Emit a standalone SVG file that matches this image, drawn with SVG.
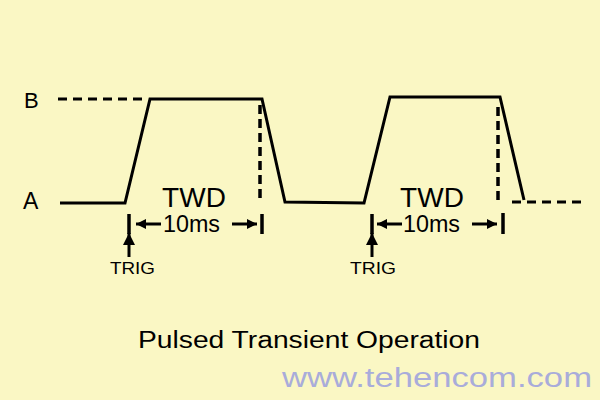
<svg xmlns="http://www.w3.org/2000/svg" width="600" height="400" viewBox="0 0 600 400">
<defs>
<style>
.bg{fill:#FAF7C4}
.w{fill:none;stroke:#000;stroke-width:3;stroke-linejoin:miter;stroke-linecap:butt}
.d{fill:none;stroke:#000;stroke-width:3;stroke-dasharray:9 6}
.dv{fill:none;stroke:#000;stroke-width:3.5;stroke-dasharray:9 5}
.m{stroke:#000;stroke-width:3.5}
.s{stroke:#000;stroke-width:3}
.t{font-family:"Liberation Sans",Arial,sans-serif;fill:#000}
.wm{font-family:"Liberation Sans",Arial,sans-serif;fill:#A9ACDA}
</style>
<marker id="ah" viewBox="0 0 10 10" refX="10" refY="5" markerWidth="10" markerHeight="10" markerUnits="userSpaceOnUse" orient="auto">
<path d="M0,0 L10,5 L0,10 Z" fill="#000"/>
</marker>
<marker id="ahb" viewBox="0 0 12 12" refX="12" refY="6" markerWidth="12" markerHeight="12" markerUnits="userSpaceOnUse" orient="auto">
<path d="M0,0 L12,6 L0,12 Z" fill="#000"/>
</marker>
</defs>
<rect class="bg" x="0" y="0" width="600" height="400"/>
<g id="labels">
<text class="t" x="24" y="108" font-size="22">B</text>
<text class="t" x="23" y="209" font-size="23">A</text>
</g>
<g id="waveform">
<path class="d" d="M58,99 H148"/>
<path class="w" d="M60,203 H125 L150,99 H262 L285,202 L364,203 L390,97 H500 L524,200"/>
<path class="d" d="M512,202 H582"/>
<path class="dv" d="M260,105 V202"/>
<path class="dv" d="M498,107 V205"/>
</g>
<g id="pulse1">
<line class="m" x1="129" y1="214" x2="129" y2="234"/>
<line class="m" x1="262" y1="214" x2="262" y2="234"/>
<text class="t" x="194" y="207" font-size="28" text-anchor="middle">TWD</text>
<text class="t" x="163" y="232" font-size="23" textLength="57" lengthAdjust="spacingAndGlyphs">10ms</text>
<line class="s" x1="161" y1="224" x2="136" y2="224" marker-end="url(#ah)"/>
<line class="s" x1="232" y1="224" x2="257" y2="224" marker-end="url(#ah)"/>
</g>
<g id="trig1">
<line class="s" x1="129" y1="257" x2="129" y2="233" marker-end="url(#ahb)"/>
<text class="t" x="110" y="274" font-size="17" textLength="45" lengthAdjust="spacingAndGlyphs">TRIG</text>
</g>
<g id="pulse2">
<line class="m" x1="372" y1="214" x2="372" y2="234"/>
<line class="m" x1="503" y1="213" x2="503" y2="234"/>
<text class="t" x="432" y="207" font-size="28" text-anchor="middle">TWD</text>
<text class="t" x="403" y="232" font-size="23" textLength="57" lengthAdjust="spacingAndGlyphs">10ms</text>
<line class="s" x1="402" y1="224" x2="377" y2="224" marker-end="url(#ah)"/>
<line class="s" x1="472" y1="224" x2="497" y2="224" marker-end="url(#ah)"/>
</g>
<g id="trig2">
<line class="s" x1="372" y1="257" x2="372" y2="233" marker-end="url(#ahb)"/>
<text class="t" x="350" y="274" font-size="17" textLength="46" lengthAdjust="spacingAndGlyphs">TRIG</text>
</g>
<g id="title">
<text class="t" x="138" y="348" font-size="23" textLength="342" lengthAdjust="spacingAndGlyphs">Pulsed Transient Operation</text>
</g>
<g id="watermark">
<text class="wm" x="282" y="387" font-size="27" textLength="310" lengthAdjust="spacingAndGlyphs">www.tehencom.com</text>
</g>
</svg>
